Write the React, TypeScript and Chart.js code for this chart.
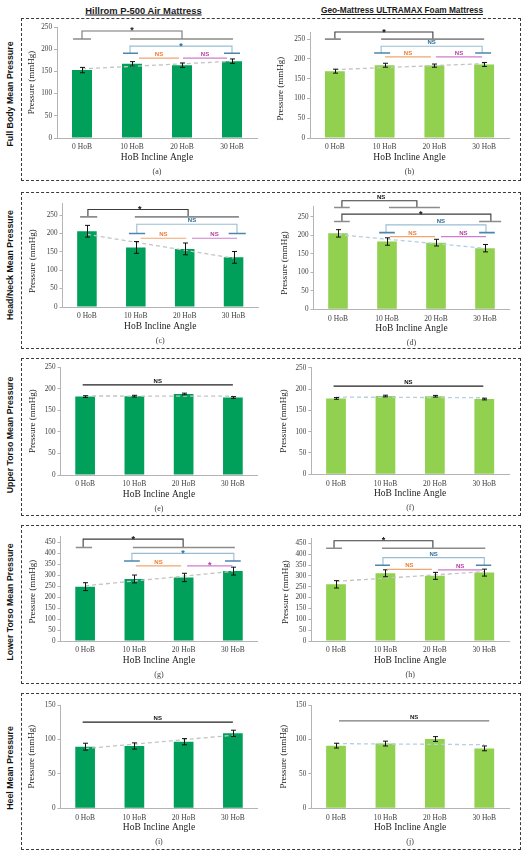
import React, { useEffect, useRef } from "react";
import { Chart, registerables } from "chart.js";

Chart.register(...registerables);

const SERIF = "'Liberation Serif', 'Times New Roman', serif";
const SANS = "'Liberation Sans', Arial, sans-serif";

const categories = ["0 HoB", "10 HoB", "20 HoB", "30 HoB"];

// mean pressure (mmHg) and error bar half-length
const fullBodyHillrom = [153, 167, 164, 173];
const fullBodyHillromErr = [6, 5, 5, 5];
const fullBodyGeo = [169, 184, 183, 186];
const fullBodyGeoErr = [5, 5, 4, 5];
const headNeckHillrom = [206, 162, 158, 135];
const headNeckHillromErr = [16, 16, 16, 16];
const headNeckGeo = [205, 183, 180, 165];
const headNeckGeoErr = [10, 10, 9, 10];
const upperTorsoHillrom = [182, 183, 188, 180];
const upperTorsoHillromErr = [2, 2, 2, 2];
const upperTorsoGeo = [178, 183.5, 183, 176.5];
const upperTorsoGeoErr = [2, 2, 2, 2];
const lowerTorsoHillrom = [248, 283, 290, 319];
const lowerTorsoHillromErr = [18, 18, 19, 18];
const lowerTorsoGeo = [261, 312, 300, 315];
const lowerTorsoGeoErr = [17, 16, 16, 16];
const heelHillrom = [89.5, 90.5, 96.7, 108.9];
const heelHillromErr = [5, 4.5, 4.5, 4.5];
const heelGeo = [91, 94, 100.6, 87];
const heelGeoErr = [3.5, 3.5, 3.5, 3.5];

const rowLabels = [
  "Full Body Mean Pressure",
  "Head/Neck Mean Pressure",
  "Upper Torso Mean Pressure",
  "Lower Torso Mean Pressure",
  "Heel Mean Pressure",
];
const columnTitles = ["Hillrom P-500 Air Mattress", "Geo-Mattress ULTRAMAX Foam Mattress"];

type Tone = "dark" | "gray" | "blue" | "orange" | "purple" | "black" | "grayline";

const tones: Record<Tone, { line: string; foot: string; text: string }> = {
  dark: { line: "#3c3c3c", foot: "#8c8c8c", text: "#111111" },
  gray: { line: "#747474", foot: "#8c8c8c", text: "#222222" },
  blue: { line: "#98bdd3", foot: "#4b86ad", text: "#2c6d98" },
  orange: { line: "#f4a46f", foot: "#f4a46f", text: "#ee7b37" },
  purple: { line: "#d07ccb", foot: "#d07ccb", text: "#b4419f" },
  black: { line: "#1f1f1f", foot: "#1f1f1f", text: "#111111" },
  grayline: { line: "#7a7a7a", foot: "#7a7a7a", text: "#222222" },
};

// significance brackets: x in category units (0 = first bar), y in mmHg
type Bracket = {
  label: string;
  tone: Tone;
  x1: number;
  x2: number;
  yTop: number;
  yBot?: number;
  feet?: [number, number][];
  labelX?: number;
};

const fullBodyHillromSig: Bracket[] = [
  { label: "*", tone: "gray", x1: 0, x2: 2, yTop: 241, yBot: 223, feet: [[-0.18, 0.18], [0.96, 3.02]] },
  { label: "*", tone: "blue", x1: 0.96, x2: 3, yTop: 207, yBot: 191, feet: [[0.82, 1.12], [2.84, 3.16]] },
  { label: "NS", tone: "orange", x1: 1.14, x2: 1.94, yTop: 180 },
  { label: "NS", tone: "purple", x1: 2.02, x2: 2.9, yTop: 180 },
];
const fullBodyGeoSig: Bracket[] = [
  { label: "*", tone: "dark", x1: 0, x2: 1.97, yTop: 268, yBot: 250, feet: [[-0.2, 0.12], [0.93, 3.0]] },
  { label: "NS", tone: "blue", x1: 0.93, x2: 2.96, yTop: 232, yBot: 215, feet: [[0.79, 1.11], [2.82, 3.14]] },
  { label: "NS", tone: "orange", x1: 1.01, x2: 1.93, yTop: 205 },
  { label: "NS", tone: "purple", x1: 2.03, x2: 2.96, yTop: 205 },
];
const headNeckHillromSig: Bracket[] = [
  { label: "*", tone: "dark", x1: 0.02, x2: 2.07, yTop: 265, yBot: 245, feet: [[-0.14, 0.21], [0.98, 3.11]], labelX: 1.08 },
  { label: "NS", tone: "blue", x1: 1.02, x2: 3.07, yTop: 225, yBot: 200, feet: [[0.86, 1.19], [2.9, 3.25]], labelX: 2.15 },
  { label: "NS", tone: "orange", x1: 1.1, x2: 2.03, yTop: 187 },
  { label: "NS", tone: "purple", x1: 2.15, x2: 3.07, yTop: 187 },
];
const headNeckGeoSig: Bracket[] = [
  { label: "NS", tone: "dark", x1: 0.08, x2: 1.61, yTop: 293, yBot: 275, feet: [[-0.08, 0.24], [1.04, 2.08]], labelX: 0.88 },
  { label: "*", tone: "dark", x1: 0.08, x2: 3.12, yTop: 257, yBot: 237, feet: [[-0.08, 0.24], [2.88, 3.33]], labelX: 1.69 },
  { label: "NS", tone: "blue", x1: 0.98, x2: 3.02, yTop: 228, yBot: 207, feet: [[0.84, 1.16], [2.88, 3.2]], labelX: 2.1 },
  { label: "NS", tone: "orange", x1: 1.06, x2: 1.98, yTop: 196 },
  { label: "NS", tone: "purple", x1: 2.1, x2: 3.02, yTop: 196 },
];
const upperTorsoHillromSig: Bracket[] = [{ label: "NS", tone: "black", x1: -0.05, x2: 3.0, yTop: 209 }];
const upperTorsoGeoSig: Bracket[] = [{ label: "NS", tone: "black", x1: -0.05, x2: 2.98, yTop: 207 }];
const lowerTorsoHillromSig: Bracket[] = [
  { label: "*", tone: "dark", x1: -0.04, x2: 1.99, yTop: 465, yBot: 427, feet: [[-0.19, 0.14], [0.97, 3.04]] },
  { label: "*", tone: "blue", x1: 0.95, x2: 3.02, yTop: 400, yBot: 365, feet: [[0.79, 1.11], [2.84, 3.16]] },
  { label: "NS", tone: "orange", x1: 1.03, x2: 1.95, yTop: 343 },
  { label: "*", tone: "purple", x1: 2.07, x2: 2.99, yTop: 343 },
];
const lowerTorsoGeoSig: Bracket[] = [
  { label: "*", tone: "dark", x1: -0.04, x2: 1.96, yTop: 462, yBot: 427, feet: [[-0.2, 0.12], [0.93, 3.02]] },
  { label: "NS", tone: "blue", x1: 0.95, x2: 3.0, yTop: 384, yBot: 349, feet: [[0.79, 1.09], [2.83, 3.14]] },
  { label: "NS", tone: "orange", x1: 1.03, x2: 1.94, yTop: 330 },
  { label: "NS", tone: "purple", x1: 2.06, x2: 2.96, yTop: 328 },
];
const heelHillromSig: Bracket[] = [{ label: "NS", tone: "black", x1: -0.05, x2: 3.0, yTop: 125 }];
const heelGeoSig: Bracket[] = [{ label: "NS", tone: "grayline", x1: 0.06, x2: 3.1, yTop: 127 }];

const HILLROM = "#00a05b";
const GEO = "#92d050";
const TREND_GRAY = "#c3c3c3";
const TREND_BLUE = "#b5cfe2";

const rows: [number, number][] = [
  [18, 181],
  [192, 349],
  [358, 516],
  [525, 684],
  [693, 850],
];
const rowLabelY = [94, 265, 435, 602, 768];
const cols: [number, number][] = [
  [22, 240],
  [262, 258],
];

type PanelSpec = {
  letter: string;
  values: number[];
  errors: number[];
  color: string;
  trend: string;
  col: number;
  row: number;
  area: [number, number, number, number]; // page px: left, top, right, bottom
  yMax: number;
  tickMax: number;
  yTitleX: number;
  sig: Bracket[];
};

const panels: PanelSpec[] = [
  { letter: "(a)", values: fullBodyHillrom, errors: fullBodyHillromErr, color: HILLROM, trend: TREND_GRAY, col: 0, row: 0, area: [57, 27, 257, 138], yMax: 250, tickMax: 250, yTitleX: 31.5, sig: fullBodyHillromSig },
  { letter: "(b)", values: fullBodyGeo, errors: fullBodyGeoErr, color: GEO, trend: TREND_GRAY, col: 1, row: 0, area: [310, 32, 509, 138], yMax: 268, tickMax: 250, yTitleX: 280.5, sig: fullBodyGeoSig },
  { letter: "(c)", values: headNeckHillrom, errors: headNeckHillromErr, color: HILLROM, trend: TREND_GRAY, col: 0, row: 1, area: [62.5, 203.3, 258, 307], yMax: 282, tickMax: 250, yTitleX: 33, sig: headNeckHillromSig },
  { letter: "(d)", values: headNeckGeo, errors: headNeckGeoErr, color: GEO, trend: TREND_BLUE, col: 1, row: 1, area: [313.5, 206.7, 509.5, 309.3], yMax: 277, tickMax: 250, yTitleX: 285, sig: headNeckGeoSig },
  { letter: "(e)", values: upperTorsoHillrom, errors: upperTorsoHillromErr, color: HILLROM, trend: TREND_GRAY, col: 0, row: 2, area: [60.5, 367.3, 257.5, 475], yMax: 250, tickMax: 250, yTitleX: 32.5, sig: upperTorsoHillromSig },
  { letter: "(f)", values: upperTorsoGeo, errors: upperTorsoGeoErr, color: GEO, trend: TREND_BLUE, col: 1, row: 2, area: [311.3, 367.7, 509, 474.3], yMax: 250, tickMax: 250, yTitleX: 284, sig: upperTorsoGeoSig },
  { letter: "(g)", values: lowerTorsoHillrom, errors: lowerTorsoHillromErr, color: HILLROM, trend: TREND_GRAY, col: 0, row: 3, area: [60.5, 536.7, 257.5, 641], yMax: 476, tickMax: 450, yTitleX: 33, sig: lowerTorsoHillromSig },
  { letter: "(h)", values: lowerTorsoGeo, errors: lowerTorsoGeoErr, color: GEO, trend: TREND_GRAY, col: 1, row: 3, area: [311.3, 538.3, 509, 641], yMax: 473, tickMax: 450, yTitleX: 286, sig: lowerTorsoGeoSig },
  { letter: "(i)", values: heelHillrom, errors: heelHillromErr, color: HILLROM, trend: TREND_GRAY, col: 0, row: 4, area: [60.5, 705, 257.5, 808.3], yMax: 150, tickMax: 150, yTitleX: 32, sig: heelHillromSig },
  { letter: "(j)", values: heelGeo, errors: heelGeoErr, color: GEO, trend: TREND_BLUE, col: 1, row: 4, area: [311.3, 705, 509, 808.3], yMax: 150, tickMax: 150, yTitleX: 284, sig: heelGeoSig },
];

// least-squares trend line (like the spreadsheet trendline), value at first and last bar
function trendEnds(vals: number[]) {
  const n = vals.length;
  const mx = (n - 1) / 2;
  const my = vals.reduce((a, b) => a + b, 0) / n;
  let sxy = 0;
  let sxx = 0;
  vals.forEach((v, i) => {
    sxy += (i - mx) * (v - my);
    sxx += (i - mx) * (i - mx);
  });
  const k = sxy / sxx;
  return [my - k * mx, my + k * (n - 1 - mx)];
}

function Panel({ spec }: { spec: PanelSpec }) {
  const canvasRef = useRef<HTMLCanvasElement>(null);
  const [boxLeft, boxWidth] = cols[spec.col];
  const boxTop = rows[spec.row][0] + 1;
  const boxHeight = rows[spec.row][1] - rows[spec.row][0] - 2;
  const [aLeft, aTop, aRight, aBottom] = spec.area;

  useEffect(() => {
    if (!canvasRef.current) return;

    const overlay = {
      id: "overlay",
      afterDatasetsDraw(chart: any) {
        const { ctx } = chart;
        const x = chart.scales.x;
        const y = chart.scales.y;
        const x0 = x.getPixelForValue(0);
        const dx = x.getPixelForValue(1) - x0;
        const X = (u: number) => x0 + u * dx;
        const Y = (v: number) => y.getPixelForValue(v);
        ctx.save();

        // trend line
        const [t0, t1] = trendEnds(spec.values);
        ctx.strokeStyle = spec.trend;
        ctx.lineWidth = 1.3;
        ctx.setLineDash([4, 3]);
        ctx.beginPath();
        ctx.moveTo(X(0), Y(t0));
        ctx.lineTo(X(spec.values.length - 1), Y(t1));
        ctx.stroke();
        ctx.setLineDash([]);

        // error bars
        ctx.strokeStyle = "#111";
        ctx.lineWidth = 1;
        spec.values.forEach((v, i) => {
          const cx = Math.round(X(i)) + 0.5;
          const hi = Y(v + spec.errors[i]);
          const lo = Y(v - spec.errors[i]);
          ctx.beginPath();
          ctx.moveTo(cx, hi);
          ctx.lineTo(cx, lo);
          ctx.moveTo(cx - 2.5, hi);
          ctx.lineTo(cx + 2.5, hi);
          ctx.moveTo(cx - 2.5, lo);
          ctx.lineTo(cx + 2.5, lo);
          ctx.stroke();
        });

        // significance brackets
        spec.sig.forEach((b) => {
          const t = tones[b.tone];
          const top = Y(b.yTop);
          ctx.strokeStyle = t.line;
          ctx.beginPath();
          if (b.yBot !== undefined) {
            const bot = Y(b.yBot);
            ctx.lineWidth = 1.1;
            ctx.moveTo(X(b.x1), bot);
            ctx.lineTo(X(b.x1), top);
            ctx.lineTo(X(b.x2), top);
            ctx.lineTo(X(b.x2), bot);
            ctx.stroke();
            ctx.strokeStyle = t.foot;
            ctx.lineWidth = 1.6;
            ctx.beginPath();
            (b.feet || []).forEach(([f1, f2]) => {
              ctx.moveTo(X(f1), bot);
              ctx.lineTo(X(f2), bot);
            });
            ctx.stroke();
          } else {
            ctx.lineWidth = 1.2;
            ctx.moveTo(X(b.x1), top);
            ctx.lineTo(X(b.x2), top);
            ctx.stroke();
          }
          const lx = X(b.labelX !== undefined ? b.labelX : (b.x1 + b.x2) / 2);
          ctx.fillStyle = t.text;
          ctx.textAlign = "center";
          ctx.textBaseline = "alphabetic";
          if (b.label === "*") {
            ctx.font = `bold 9px ${SANS}`;
            ctx.fillText("*", lx, top + 2.5);
          } else {
            ctx.font = `bold 6px ${SANS}`;
            ctx.fillText(b.label, lx, top - 2);
          }
        });
        ctx.restore();
      },
      afterDraw(chart: any) {
        const { ctx } = chart;
        const y = chart.scales.y;
        const { left, right, bottom } = chart.chartArea;
        ctx.save();
        ctx.fillStyle = "#1a1a1a";
        ctx.textAlign = "center";
        ctx.textBaseline = "middle";
        ctx.font = `9px ${SERIF}`;
        ctx.translate(spec.yTitleX - boxLeft, (y.getPixelForValue(0) + y.getPixelForValue(spec.tickMax)) / 2);
        ctx.rotate(-Math.PI / 2);
        ctx.fillText("Pressure (mmHg)", 0, 0);
        ctx.restore();
        ctx.save();
        ctx.fillStyle = "#1a1a1a";
        ctx.textAlign = "center";
        ctx.textBaseline = "middle";
        ctx.font = `9.5px ${SERIF}`;
        ctx.fillText("HoB Incline Angle", (left + right) / 2, bottom + 19.5);
        ctx.font = `8px ${SERIF}`;
        ctx.fillStyle = "#404040";
        ctx.fillText(spec.letter, (left + right) / 2, bottom + 33.5);
        ctx.restore();
      },
    };

    const chart = new Chart(canvasRef.current, {
      type: "bar",
      data: {
        labels: categories,
        datasets: [
          {
            data: spec.values,
            backgroundColor: spec.color,
            borderWidth: 0,
            barPercentage: 0.4,
            categoryPercentage: 1,
          },
        ],
      },
      options: {
        responsive: true,
        maintainAspectRatio: false,
        animation: false,
        events: [],
        layout: {
          padding: {
            left: 0,
            bottom: 0,
            top: aTop - boxTop,
            right: boxLeft + boxWidth - aRight,
          },
        },
        plugins: {
          legend: { display: false },
          tooltip: { enabled: false },
          title: { display: false },
        },
        scales: {
          x: {
            grid: { display: false, drawTicks: false },
            border: { display: true, color: "#b4b4b4", width: 1 },
            ticks: {
              color: "#404040",
              font: { family: SERIF, size: 7.5 },
              padding: 5,
              maxRotation: 0,
              autoSkip: false,
            },
            afterFit: (s: any) => {
              s.height = boxTop + boxHeight - aBottom;
            },
          },
          y: {
            min: 0,
            max: spec.yMax,
            bounds: "data",
            grid: { display: true, drawOnChartArea: false, drawTicks: true, tickLength: 3, color: "#b4b4b4" },
            border: { display: true, color: "#b4b4b4", width: 1 },
            ticks: {
              stepSize: 50,
              autoSkip: false,
              color: "#404040",
              font: { family: SERIF, size: 7.2 },
              padding: 2,
            },
            afterBuildTicks: (s: any) => {
              s.ticks = s.ticks.filter((t: any) => t.value <= spec.tickMax && t.value % 50 === 0);
            },
            afterFit: (s: any) => {
              s.width = aLeft - boxLeft;
            },
          },
        },
      },
      plugins: [overlay],
    } as any);

    return () => chart.destroy();
  }, []);

  return (
    <div style={{ position: "absolute", left: boxLeft, top: boxTop, width: boxWidth, height: boxHeight }}>
      <canvas ref={canvasRef} />
    </div>
  );
}

export default function App() {
  return (
    <div
      style={{
        position: "absolute",
        left: 0,
        top: 0,
        width: 525,
        height: 852,
        background: "#fff",
        fontFamily: SANS,
        overflow: "hidden",
      }}
    >
      {columnTitles.map((t, i) => (
        <div
          key={t}
          style={{
            position: "absolute",
            left: i === 0 ? 143.5 : 402,
            top: 9.5,
            transform: "translate(-50%, -50%)",
            whiteSpace: "nowrap",
            fontWeight: "bold",
            fontSize: i === 0 ? 9.4 : 8.3,
            textDecoration: "underline",
            color: "#1a1a1a",
          }}
        >
          {t}
        </div>
      ))}
      {rows.map(([t0, t1], i) => (
        <div
          key={i}
          style={{
            position: "absolute",
            left: 21,
            top: t0,
            width: 500,
            height: t1 - t0,
            boxSizing: "border-box",
            border: "1px dashed #3a3a3a",
          }}
        />
      ))}
      {rowLabels.map((t, i) => (
        <div
          key={t}
          style={{
            position: "absolute",
            left: 9.5,
            top: rowLabelY[i],
            transform: "translate(-50%, -50%) rotate(-90deg)",
            whiteSpace: "nowrap",
            fontWeight: "bold",
            fontSize: 8.8,
            color: "#111",
          }}
        >
          {t}
        </div>
      ))}
      {panels.map((p) => (
        <Panel key={p.letter} spec={p} />
      ))}
    </div>
  );
}
